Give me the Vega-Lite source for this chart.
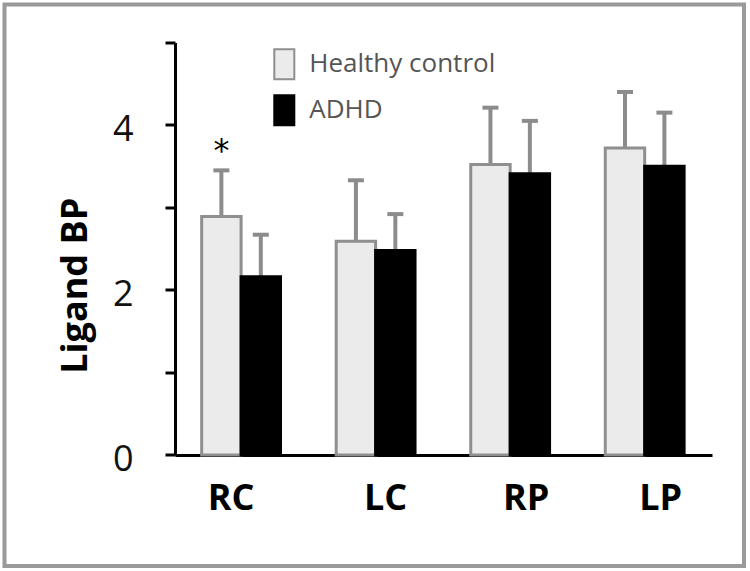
{
  "$schema": "https://vega.github.io/schema/vega-lite/v6.json",
  "width": 739.5,
  "height": 561.5,
  "autosize": {"type": "none"},
  "padding": {"left": 4.5, "top": 4.5, "right": 6, "bottom": 5},
  "background": "white",
  "config": {
    "view": {"stroke": "#9a9a9a", "strokeWidth": 4},
    "font": "Open Sans"
  },
  "data": {
    "values": [
      {"region": "RC", "group": "Healthy control", "value": 2.89, "upper": 3.45, "sig": "*"},
      {"region": "RC", "group": "ADHD", "value": 2.16, "upper": 2.67, "sig": ""},
      {"region": "LC", "group": "Healthy control", "value": 2.59, "upper": 3.33, "sig": ""},
      {"region": "LC", "group": "ADHD", "value": 2.48, "upper": 2.92, "sig": ""},
      {"region": "RP", "group": "Healthy control", "value": 3.52, "upper": 4.21, "sig": ""},
      {"region": "RP", "group": "ADHD", "value": 3.41, "upper": 4.05, "sig": ""},
      {"region": "LP", "group": "Healthy control", "value": 3.72, "upper": 4.40, "sig": ""},
      {"region": "LP", "group": "ADHD", "value": 3.50, "upper": 4.15, "sig": ""}
    ]
  },
  "encoding": {
    "x": {
      "field": "region",
      "type": "nominal",
      "sort": ["RC", "LC", "RP", "LP"],
      "scale": {"paddingInner": 0.414, "paddingOuter": 0.9554, "align": 0.767},
      "axis": {
        "title": null,
        "orient": "bottom",
        "offset": -111,
        "labelAngle": 0,
        "ticks": false,
        "tickSize": 0,
        "domainColor": "#000000",
        "domainWidth": 3,
        "domainDash": [0, 170.5, 537, 3000],
        "labelFont": "Open Sans",
        "labelFontSize": 36,
        "labelFontWeight": "bold",
        "labelColor": "#000000",
        "labelPadding": 26,
        "labelOffset": {
          "condition": [
            {"test": "datum.value === 'RC'", "value": -10},
            {"test": "datum.value === 'LC'", "value": 10}
          ],
          "value": 16
        }
      }
    },
    "xOffset": {
      "field": "group",
      "type": "nominal",
      "sort": ["Healthy control", "ADHD"],
      "scale": {"paddingInner": 0, "paddingOuter": 0}
    },
    "y": {
      "type": "quantitative",
      "scale": {"domain": [-1.3455, 5.4606], "nice": false, "zero": false},
      "axis": {
        "title": "Ligand BP",
        "orient": "left",
        "offset": -170.5,
        "values": [0, 1, 2, 3, 4, 5],
        "labelExpr": "datum.value % 2 === 0 ? datum.label : ''",
        "grid": false,
        "domainColor": "#000000",
        "domainWidth": 3,
        "domainDash": [0, 111, 412.5, 3000],
        "tickColor": "#000000",
        "tickWidth": 3,
        "tickSize": 10,
        "labelFont": "Open Sans",
        "labelFontSize": 36,
        "labelColor": "#111111",
        "labelPadding": 32,
        "labelOffset": 5,
        "titleFont": "Open Sans",
        "titleFontSize": 36,
        "titleFontWeight": "bold",
        "titleColor": "#000000",
        "titlePadding": 18
      }
    }
  },
  "layer": [
    {
      "mark": {"type": "rule", "color": "#8c8c8c", "strokeWidth": 4},
      "encoding": {
        "y": {"field": "value", "type": "quantitative"},
        "y2": {"field": "upper"}
      }
    },
    {
      "mark": {"type": "tick", "color": "#8c8c8c", "thickness": 4, "size": 16, "opacity": 1},
      "encoding": {
        "y": {"field": "upper", "type": "quantitative"}
      }
    },
    {
      "mark": {"type": "bar", "strokeWidth": 3},
      "encoding": {
        "y": {"field": "value", "type": "quantitative", "stack": null},
        "y2": {"datum": 0},
        "fill": {
          "field": "group",
          "type": "nominal",
          "sort": ["Healthy control", "ADHD"],
          "scale": {"domain": ["Healthy control", "ADHD"], "range": ["#ebebeb", "#000000"]},
          "legend": {
            "title": null,
            "orient": "none",
            "legendX": 263.8,
            "legendY": 43.8,
            "direction": "vertical",
            "padding": 0,
            "symbolType": "M-0.667,-1H0.667V1H-0.667Z",
            "symbolSize": 900,
            "symbolStrokeWidth": 2,
            "labelFont": "Open Sans",
            "labelFontSize": 26,
            "labelColor": "#555555",
            "labelOffset": 9,
            "labelLimit": 0,
            "rowPadding": 8,
            "encode": {
              "symbols": {
                "update": {
                  "stroke": {"signal": "datum.value === 'ADHD' ? '#000000' : '#8f8f8f'"},
                  "strokeWidth": {"value": 2}
                }
              }
            }
          }
        },
        "stroke": {
          "field": "group",
          "type": "nominal",
          "scale": {"domain": ["Healthy control", "ADHD"], "range": ["#8f8f8f", "#000000"]},
          "legend": null
        }
      }
    },
    {
      "transform": [{"filter": "datum.sig === '*'"}],
      "mark": {"type": "text", "fontSize": 32, "font": "DejaVu Sans", "color": "#000000", "baseline": "alphabetic", "dy": -9},
      "encoding": {
        "y": {"field": "upper", "type": "quantitative"},
        "text": {"field": "sig"}
      }
    }
  ]
}
